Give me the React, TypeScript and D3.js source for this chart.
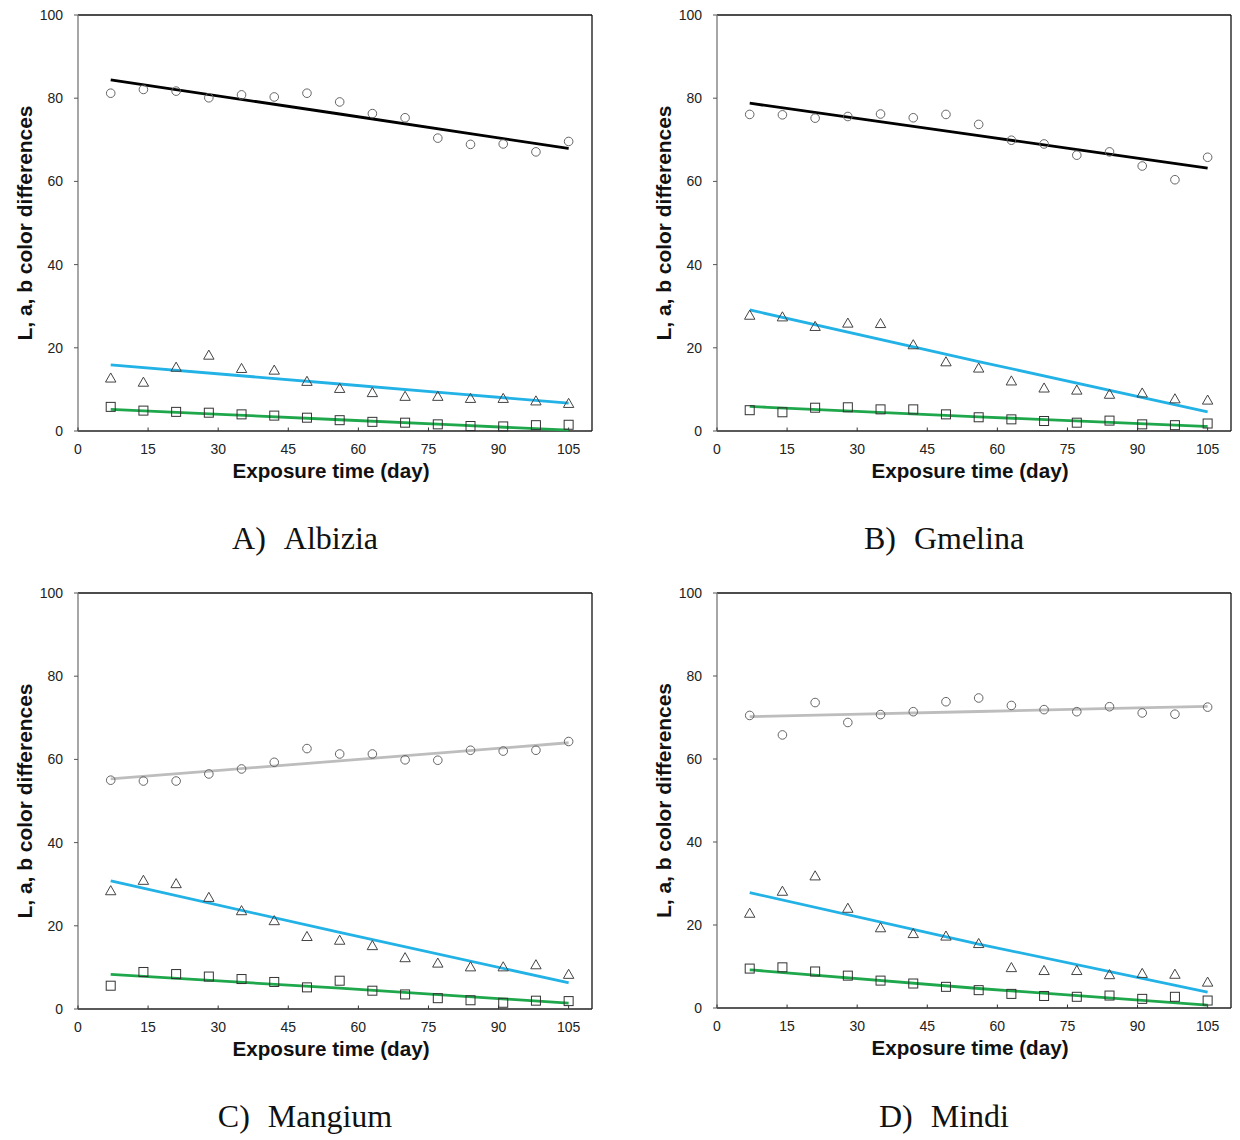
import React, { useEffect } from "react";
import * as d3 from "d3";

// ---------- data ----------
const DAYS = [7, 14, 21, 28, 35, 42, 49, 56, 63, 70, 77, 84, 91, 98, 105];
const FIT_DAYS = [7, 56, 105];
const X_TICKS = [0, 15, 30, 45, 60, 75, 90, 105];
const Y_TICKS = [0, 20, 40, 60, 80, 100];

const albiziaL = [81.2, 82.1, 81.7, 80.1, 80.8, 80.3, 81.2, 79.1, 76.3, 75.3, 70.4, 68.9, 69.0, 67.1, 69.6];
const albiziaA = [12.8, 11.8, 15.4, 18.3, 15.1, 14.7, 12.0, 10.3, 9.3, 8.4, 8.4, 7.9, 7.9, 7.3, 6.7];
const albiziaB = [5.8, 4.9, 4.6, 4.4, 4.0, 3.7, 3.2, 2.6, 2.2, 2.0, 1.6, 1.2, 1.1, 1.4, 1.5];
const albiziaLFit = [84.4, 76.2, 67.9];
const albiziaAFit = [15.9, 11.3, 6.7];
const albiziaBFit = [5.2, 2.7, 0.2];

const gmelinaL = [76.1, 76.0, 75.2, 75.6, 76.2, 75.3, 76.1, 73.7, 69.9, 69.0, 66.3, 67.1, 63.7, 60.4, 65.8];
const gmelinaA = [27.9, 27.5, 25.2, 26.0, 25.9, 20.8, 16.7, 15.2, 12.1, 10.4, 9.9, 8.9, 9.2, 7.8, 7.5];
const gmelinaB = [5.0, 4.5, 5.6, 5.7, 5.2, 5.2, 4.0, 3.3, 2.8, 2.4, 2.0, 2.5, 1.6, 1.4, 1.8];
const gmelinaLFit = [78.8, 71.0, 63.2];
const gmelinaAFit = [29.1, 16.7, 4.6];
const gmelinaBFit = [5.9, 3.4, 1.1];

const mangiumL = [55.0, 54.8, 54.8, 56.5, 57.7, 59.3, 62.6, 61.3, 61.3, 59.9, 59.8, 62.2, 62.0, 62.2, 64.3];
const mangiumA = [28.5, 31.0, 30.2, 26.9, 23.7, 21.3, 17.5, 16.6, 15.3, 12.4, 11.1, 10.2, 10.2, 10.7, 8.4];
const mangiumB = [5.6, 8.9, 8.4, 7.8, 7.2, 6.5, 5.2, 6.8, 4.4, 3.5, 2.6, 2.1, 1.5, 2.0, 1.9];
const mangiumLFit = [55.3, 59.65, 64.0];
const mangiumAFit = [30.8, 18.4, 6.3];
const mangiumBFit = [8.3, 5.0, 1.4];

const mindiL = [70.5, 65.8, 73.6, 68.8, 70.7, 71.4, 73.8, 74.7, 72.9, 71.9, 71.4, 72.6, 71.1, 70.8, 72.5];
const mindiA = [22.9, 28.2, 31.9, 24.1, 19.4, 18.0, 17.4, 15.6, 9.8, 9.1, 9.1, 8.1, 8.4, 8.2, 6.3];
const mindiB = [9.5, 9.8, 8.8, 7.8, 6.6, 5.9, 5.1, 4.3, 3.4, 2.9, 2.7, 3.0, 2.2, 2.7, 1.8];
const mindiLFit = [70.2, 71.45, 72.7];
const mindiAFit = [27.8, 15.4, 3.8];
const mindiBFit = [9.2, 4.7, 0.7];

const panelLetters = ["A)", "B)", "C)", "D)"];
const panelNames = ["Albizia", "Gmelina", "Mangium", "Mindi"];

// ---------- styles / layout ----------
const SANS = "'Liberation Sans', Arial, Helvetica, sans-serif";
const SERIF = "'Liberation Serif', 'Times New Roman', serif";
const BLUE = "#22b2e6";
const GREEN = "#1fa74c";

const panels = [
  { L: albiziaL, a: albiziaA, b: albiziaB, LFit: albiziaLFit, aFit: albiziaAFit, bFit: albiziaBFit, lColor: "#000000", left: 78, right: 592, top: 15, bottom: 431, capX: 305, capY: 549 },
  { L: gmelinaL, a: gmelinaA, b: gmelinaB, LFit: gmelinaLFit, aFit: gmelinaAFit, bFit: gmelinaBFit, lColor: "#000000", left: 717, right: 1231, top: 15, bottom: 431, capX: 944, capY: 549 },
  { L: mangiumL, a: mangiumA, b: mangiumB, LFit: mangiumLFit, aFit: mangiumAFit, bFit: mangiumBFit, lColor: "#bdbdbd", left: 78, right: 592, top: 593, bottom: 1009, capX: 305, capY: 1127 },
  { L: mindiL, a: mindiA, b: mindiB, LFit: mindiLFit, aFit: mindiAFit, bFit: mindiBFit, lColor: "#bdbdbd", left: 717, right: 1231, top: 593, bottom: 1008, capX: 944, capY: 1127 },
];

function Panel({ p, idx }: { p: any; idx: number }) {
  const x = d3.scaleLinear().domain([0, 110]).range([p.left, p.right]);
  const y = d3.scaleLinear().domain([0, 100]).range([p.bottom, p.top]);
  const line = d3
    .line<number>()
    .x((_, i) => x(FIT_DAYS[i]))
    .y((v) => y(v))
    .curve(d3.curveNatural);
  const tri = (cx: number, cy: number) => `M${cx},${cy - 4.8}L${cx + 5.2},${cy + 4.3}L${cx - 5.2},${cy + 4.3}Z`;
  const midY = (p.top + p.bottom) / 2;
  const midX = (p.left + p.right) / 2;
  return (
    <g>
      {/* frame */}
      <line x1={p.left} x2={p.right} y1={p.top} y2={p.top} stroke="#111" strokeWidth={1.3} />
      <line x1={p.right} x2={p.right} y1={p.top} y2={p.bottom} stroke="#111" strokeWidth={1.3} />
      <line x1={p.left} x2={p.right} y1={p.bottom} y2={p.bottom} stroke="#222" strokeWidth={1.3} />
      <line x1={p.left} x2={p.left} y1={p.top} y2={p.bottom} stroke="#777" strokeWidth={1.3} />
      {/* y ticks */}
      {Y_TICKS.map((t) => (
        <g key={"y" + t}>
          <line x1={p.left - 4} x2={p.left} y1={y(t)} y2={y(t)} stroke="#555" strokeWidth={1} />
          <text x={p.left - 15} y={y(t)} dy="0.36em" textAnchor="end" fontFamily={SANS} fontSize={14} fill="#222">
            {t}
          </text>
        </g>
      ))}
      {/* x ticks */}
      {X_TICKS.map((t) => (
        <g key={"x" + t}>
          <line x1={x(t)} x2={x(t)} y1={p.bottom - 3.5} y2={p.bottom} stroke="#333" strokeWidth={1} />
          <text x={x(t)} y={p.bottom + 23} textAnchor="middle" fontFamily={SANS} fontSize={14} fill="#222">
            {t}
          </text>
        </g>
      ))}
      {/* axis titles */}
      <text
        x={p.left - 53}
        y={midY}
        transform={`rotate(-90 ${p.left - 53} ${midY})`}
        dy="0.36em"
        textAnchor="middle"
        fontFamily={SANS}
        fontWeight="bold"
        fontSize={20.5}
        textLength={235}
        lengthAdjust="spacingAndGlyphs"
        fill="#111"
      >
        L, a, b color differences
      </text>
      <text
        x={midX - 4}
        y={p.bottom + 47}
        textAnchor="middle"
        fontFamily={SANS}
        fontWeight="bold"
        fontSize={20}
        textLength={197}
        lengthAdjust="spacingAndGlyphs"
        fill="#111"
      >
        Exposure time (day)
      </text>
      {/* fit lines */}
      <path d={line(p.LFit) || ""} fill="none" stroke={p.lColor} strokeWidth={2.8} />
      <path d={line(p.aFit) || ""} fill="none" stroke={BLUE} strokeWidth={2.8} />
      <path d={line(p.bFit) || ""} fill="none" stroke={GREEN} strokeWidth={2.8} />
      {/* markers */}
      {DAYS.map((d, i) => (
        <circle key={"c" + i} cx={x(d)} cy={y(p.L[i])} r={4.3} fill="none" stroke="#666" strokeWidth={1} />
      ))}
      {DAYS.map((d, i) => (
        <path key={"t" + i} d={tri(x(d), y(p.a[i]))} fill="none" stroke="#444" strokeWidth={1} />
      ))}
      {DAYS.map((d, i) => (
        <rect key={"s" + i} x={x(d) - 4.5} y={y(p.b[i]) - 4.5} width={9} height={9} fill="none" stroke="#333" strokeWidth={1} />
      ))}
      {/* caption */}
      <text x={p.capX} y={p.capY} textAnchor="middle" fontFamily={SERIF} fontSize={32} fill="#111">
        {panelLetters[idx]}
        <tspan dx={18}>{panelNames[idx]}</tspan>
      </text>
    </g>
  );
}

export default function App() {
  useEffect(() => {
    document.body.style.margin = "0";
  }, []);
  return (
    <svg width={1240} height={1140} viewBox="0 0 1240 1140" style={{ display: "block", background: "#fff" }}>
      <rect x={0} y={0} width={1240} height={1140} fill="#fff" />
      {panels.map((p, i) => (
        <Panel key={i} p={p} idx={i} />
      ))}
    </svg>
  );
}
